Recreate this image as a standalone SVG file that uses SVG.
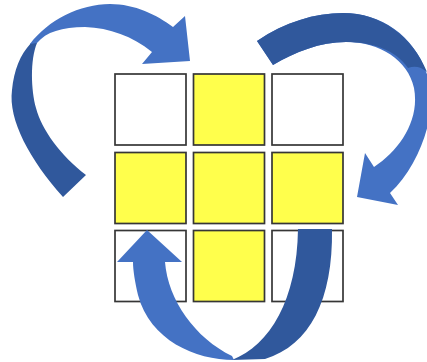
<svg xmlns="http://www.w3.org/2000/svg" width="427" height="362" viewBox="0 0 427 362">
  <style>
    .cell { stroke: #363636; stroke-width: 1.7; fill: #FFFFFF; }
    .cell.on { fill: #FFFF4C; }
    .light { fill: #4472C4; }
    .dark { fill: #30589C; }
  </style>

  <!-- 3x3 grid -->
  <g id="c11"><rect class="cell" x="115" y="74" width="71" height="71"/></g>
  <g id="c12"><rect class="cell on" x="193.5" y="74" width="71" height="71"/></g>
  <g id="c13"><rect class="cell" x="272" y="74" width="71" height="71"/></g>
  <g id="c21"><rect class="cell on" x="115" y="152.5" width="71" height="71"/></g>
  <g id="c22"><rect class="cell on" x="193.5" y="152.5" width="71" height="71"/></g>
  <g id="c23"><rect class="cell on" x="272" y="152.5" width="71" height="71"/></g>
  <g id="c31"><rect class="cell" x="115" y="230.5" width="71" height="71"/></g>
  <g id="c32"><rect class="cell on" x="193.5" y="230.5" width="71" height="71"/></g>
  <g id="c33"><rect class="cell" x="272" y="230.5" width="71" height="71"/></g>

  <g id="connectors">
    <!-- left arrow: sweeps up and over, pointing at the top row -->
    <g id="arrow-left">
      <path class="dark" d="M63,197 C30,160 8,120 12,90 C14,70 20,55 31,43 L37,43 C30,60 31,90 36,108 C42,130 60,155 86,175 Z"/>
      <path class="light" d="M30,44 C48,20 80,4 110,4 C135,4 157,15 173,27 L185,16 L190,61 L142,64 L152,52 C132,36 110,28 85,27 C62,27 46,32 37,43 Z"/>
    </g>
    <!-- right arrow: sweeps over the top right and down to the middle row -->
    <g id="arrow-right">
      <path class="light" d="M257,41 C285,22 315,13 343,13 C385,13 420,40 430,85 C436,115 420,165 390,193 L398,205 L357,197 L365,153 L374,167 C400,150 420,120 414,88 C408,60 380,42 346,42 C320,42 295,52 273,65 Z"/>
      <path class="dark" d="M257,41 C285,22 315,13 343,13 C380,13 412,35 427,72 Q418,64 408,68 C396,50 372,42 346,42 C320,42 295,52 273,65 Z"/>
    </g>
    <!-- bottom arrow: U-turn under the grid, pointing up into the bottom row -->
    <g id="arrow-bottom">
      <path class="dark" d="M298,229 L332,229 C333,300 310,345 265,359 L232,360 C270,345 297,300 298,229 Z"/>
      <path class="light" d="M147,230 L182,262 L165,262 C168,300 195,338 232,356 L234,360 C195,360 150,340 138,295 C135,282 133,270 133,262 L117,262 Z"/>
    </g>
  </g>
</svg>
